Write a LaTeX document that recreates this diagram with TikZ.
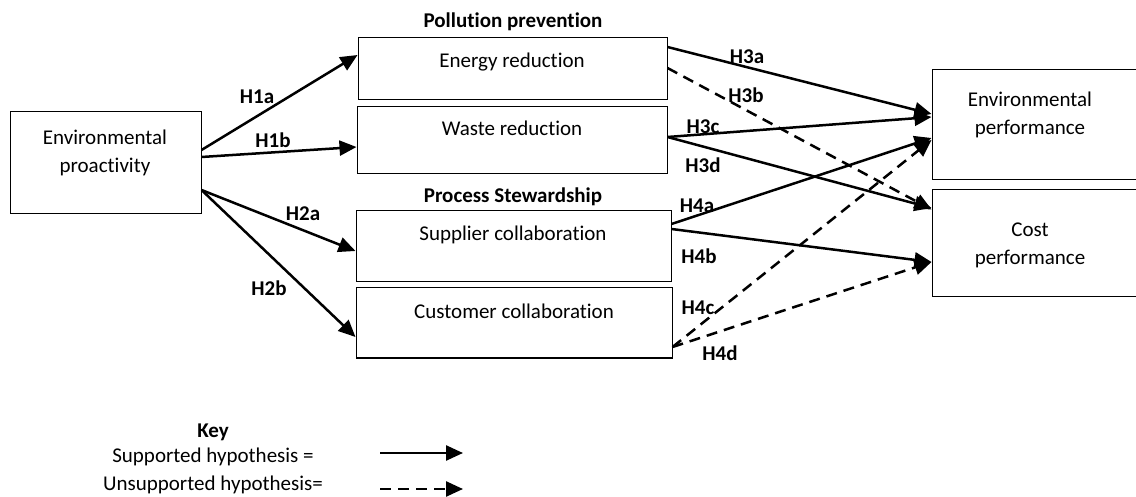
\documentclass[tikz,border=0pt]{standalone}
\usepackage{fontspec}
\setmainfont{Carlito}[Ligatures=NoCommon]
\usetikzlibrary{arrows.meta}
\tikzset{
  box/.style={draw, line width=1pt, inner sep=0pt},
  txt/.style={font=\fontsize{21}{28}\selectfont, align=center, inner sep=0pt},
  hyp/.style={font=\fontsize{21}{28}\selectfont\bfseries, inner sep=0pt},
  supported/.style={line width=2.5pt, -{Triangle[length=17pt,width=15pt]}},
  unsupported/.style={supported, dash pattern=on 11pt off 7pt}
}

\begin{document}
\begin{tikzpicture}[x=1pt,y=1pt]
\useasboundingbox (0,0) rectangle (1136,496);
\node[box, minimum width=191pt, minimum height=102pt] (envpro) at (105.5,333) {};
\node[box, minimum width=309pt, minimum height=62pt] (energy) at (512.5,427) {};
\node[box, minimum width=310pt, minimum height=67pt] (waste) at (512,355.5) {};
\node[box, minimum width=315pt, minimum height=71pt] (supplier) at (513.5,249.5) {};
\node[box, minimum width=316pt, minimum height=70pt] (customer) at (514,173) {};
\node[box, minimum width=210pt, minimum height=110pt] (envperf) at (1037,371) {};
\node[box, minimum width=210pt, minimum height=107pt] (costperf) at (1037,252.5) {};

\node[txt] (tenvpro) at (105,343.5) {Environmental\\proactivity};
\node[txt] (tenergy) at (512,434) {Energy reduction};
\node[txt] (twaste) at (512,368) {Waste reduction};
\node[txt] (tsupplier) at (513,261) {Supplier collaboration};
\node[txt] (tcustomer) at (514,185) {Customer collaboration};
\node[txt] (tenvperf) at (1030,381) {Environmental\\performance};
\node[txt] (tcostperf) at (1030,251) {Cost\\performance};
\node[hyp] (pollution) at (513,474) {Pollution prevention};
\node[hyp] (process) at (513,299) {Process Stewardship};

\draw[supported] ([yshift=13pt]envpro.east) -- ([yshift=14pt]energy.west);
\draw[supported] ([yshift=6pt]envpro.east) -- ([yshift=-6.5pt]waste.west);
\draw[supported] ([yshift=-27pt]envpro.east) -- ([yshift=-4.5pt]supplier.west);
\draw[supported] ([yshift=-27pt]envpro.east) -- ([yshift=-14pt]customer.west);
\draw[supported] ([yshift=22pt]energy.east) -- ([yshift=11pt]envperf.west);
\draw[unsupported] ([yshift=1pt]energy.east) -- ([yshift=34pt]costperf.west);
\draw[supported] ([yshift=3.5pt]waste.east) -- ([yshift=8pt]envperf.west);
\draw[supported] ([yshift=3.5pt]waste.east) -- ([yshift=35.5pt]costperf.west);
\draw[supported] ([yshift=22.5pt]supplier.east) -- ([yshift=-13pt]envperf.west);
\draw[supported] ([yshift=17.5pt]supplier.east) -- ([yshift=-18.5pt]costperf.west);
\draw[unsupported] ([yshift=-24pt]customer.east) -- ([yshift=-15pt]envperf.west);
\draw[unsupported] ([yshift=-24pt]customer.east) -- ([yshift=-18.5pt]costperf.west);

\node[hyp] (h1a) at (257,399) {H1a};
\node[hyp] (h1b) at (273,356) {H1b};
\node[hyp] (h2a) at (303,282) {H2a};
\node[hyp] (h2b) at (269,208) {H2b};
\node[hyp] (h3a) at (747,439) {H3a};
\node[hyp] (h3b) at (746,401) {H3b};
\node[hyp] (h3c) at (703,369) {H3c};
\node[hyp] (h3d) at (703,331) {H3d};
\node[hyp] (h4a) at (697,290) {H4a};
\node[hyp] (h4b) at (699,240) {H4b};
\node[hyp] (h4c) at (698,188) {H4c};
\node[hyp] (h4d) at (720,143) {H4d};

\node[hyp] (key) at (213,64) {Key};
\node[txt] (keysup) at (213,39) {Supported hypothesis =};
\node[txt] (keyunsup) at (213,11) {Unsupported hypothesis=};
\coordinate (ks1) at (380,43);
\coordinate (ks2) at (463,43);
\coordinate (ku1) at (380,7);
\coordinate (ku2) at (463,7);
\draw[supported] (ks1) -- (ks2);
\draw[unsupported] (ku1) -- (ku2);
\end{tikzpicture}
\end{document}
